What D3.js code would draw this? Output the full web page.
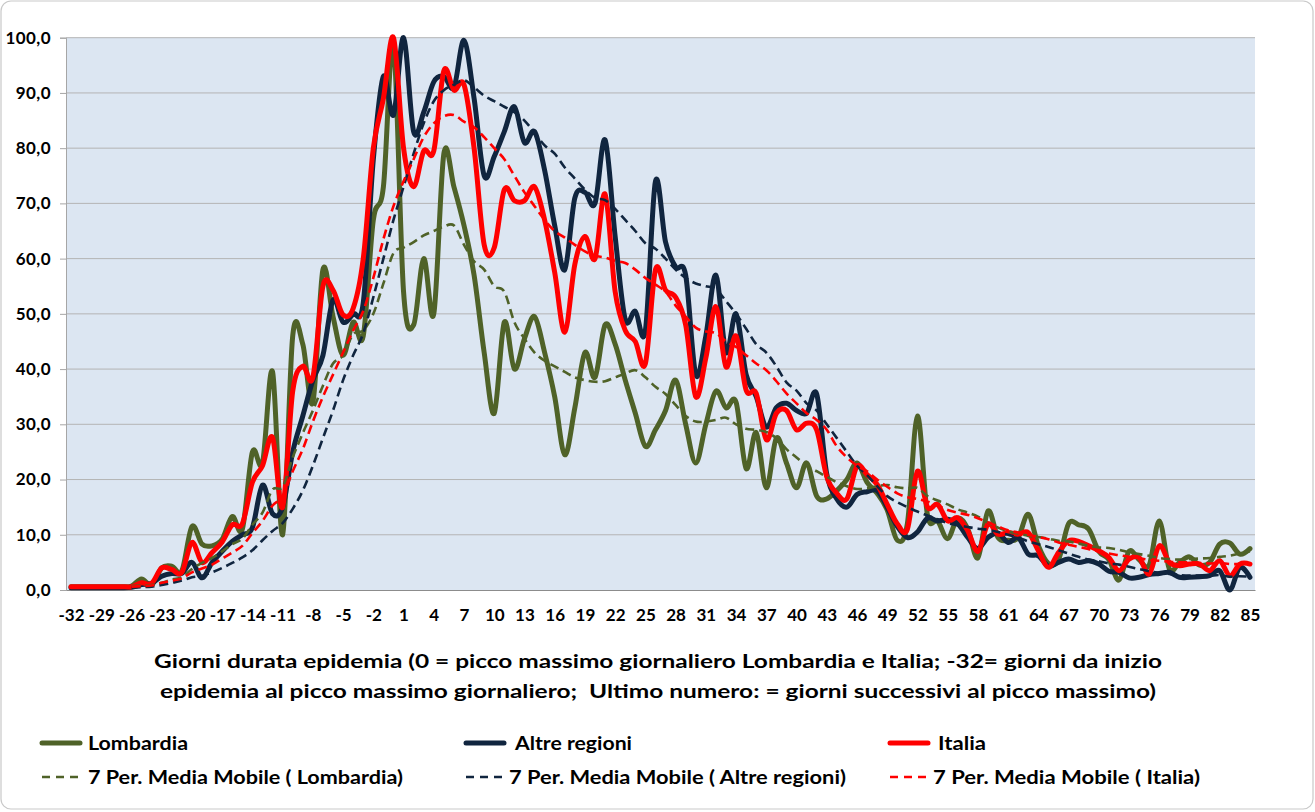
<!DOCTYPE html>
<html><head><meta charset="utf-8">
<script src="https://cdn.jsdelivr.net/npm/d3@7/dist/d3.min.js"></script>
<style>
body{margin:0;background:#fff}
svg{display:block}
text{font-family:Lato,"Liberation Sans",sans-serif;font-weight:bold;fill:#000;white-space:pre}
</style>
</head><body>
<svg id="chart" width="1315" height="812"></svg>
<script>
// ---------- DATA ----------
const days = [-32,-31,-30,-29,-28,-27,-26,-25,-24,-23,-22,-21,-20,-19,-18,-17,-16,-15,-14,-13,-12,-11,-10,-9,-8,-7,-6,-5,-4,-3,-2,-1,
0,1,2,3,4,5,6,7,8,9,10,11,12,13,14,15,16,17,18,19,20,21,22,23,24,25,26,27,28,29,30,31,32,33,34,35,36,37,38,39,40,41,42,43,44,45,
46,47,48,49,50,51,52,53,54,55,56,57,58,59,60,61,62,63,64,65,66,67,68,69,70,71,72,73,74,75,76,77,78,79,80,81,82,83,84,85];

const xTickLabels = ["-32","-29","-26","-23","-20","-17","-14","-11","-8","-5","-2","1","4","7","10","13","16","19","22","25","28","31","34","37","40","43","46","49","52","55","58","61","64","67","70","73","76","79","82","85"];
const yTicks = [0,10,20,30,40,50,60,70,80,90,100];

const lombardia = [0.6,0.6,0.6,0.6,0.6,0.6,
0.7,2.0,0.9,4.0,4.3,3.5,11.5,8.3,8.0,9.2,13.3,11.0,25.0,23.0,39.5,10.0,46.0,44.5,34.0,58.0,49.5,42.5,48.5,46.0,67.0,73.0,
99.0,54.0,48.0,60.0,50.0,79.0,73.0,66.0,57.0,43.0,32.0,48.5,40.0,45.5,49.5,43.0,35.0,24.5,33.0,43.0,38.5,48.0,44.5,38.0,32.0,26.0,
29.0,32.5,38.0,30.0,23.0,30.0,36.0,33.0,34.0,22.0,28.5,18.5,27.5,23.0,18.5,23.0,17.0,16.5,18.0,20.0,23.0,19.5,17.5,14.5,9.0,12.0,
31.5,13.5,12.5,9.3,13.0,11.0,5.8,14.3,9.5,9.0,9.5,13.7,8.0,4.8,5.5,12.0,11.8,11.0,7.0,5.5,1.8,7.0,5.5,4.5,12.5,3.8,5.0,6.0,4.5,5.0,8.3,8.5,6.5,7.5];

const altreRegioni = [0.4,0.4,0.4,0.4,0.4,0.4,
0.5,1.0,1.2,2.5,3.0,3.0,5.0,2.2,5.0,7.0,8.8,10.0,11.3,19.0,13.8,15.0,25.0,31.5,38.0,42.5,52.5,48.5,50.0,52.0,78.0,93.0,
86.0,100.0,83.0,86.5,92.0,93.0,91.0,99.5,89.0,75.0,78.5,83.0,87.5,81.0,83.0,76.0,66.0,58.0,71.0,72.0,70.0,81.5,64.0,49.0,50.5,47.0,
74.0,63.0,58.5,57.0,39.0,46.0,57.0,43.0,50.0,39.0,35.0,29.5,33.0,33.8,32.5,32.0,35.5,21.0,16.5,15.0,17.3,17.8,18.0,15.0,11.5,9.5,
10.5,13.0,12.5,12.8,12.0,9.5,7.5,9.5,10.3,8.6,9.5,6.5,6.2,4.3,5.0,5.6,5.0,5.3,4.7,3.4,3.2,2.2,2.3,2.8,3.0,3.2,2.3,2.3,2.4,2.6,3.5,0.0,4.1,2.3];

const italia = [0.6,0.6,0.6,0.6,0.6,0.6,
0.6,1.3,1.2,4.0,3.7,3.2,8.6,5.0,6.8,8.7,11.8,12.0,19.5,22.5,27.6,15.0,36.0,40.5,38.5,55.0,54.3,49.8,51.0,60.0,80.0,89.0,
100.0,80.0,73.0,79.5,79.5,94.0,90.5,91.5,80.0,62.5,62.0,72.5,70.5,70.5,73.0,67.0,57.5,46.7,59.0,64.0,60.0,71.7,54.0,47.0,45.0,41.0,
58.0,54.3,53.0,48.0,35.0,42.0,51.3,40.4,46.0,36.2,35.6,27.2,32.0,32.5,29.0,30.2,29.0,20.5,17.5,16.5,22.4,20.9,19.1,15.5,12.0,11.0,
21.5,15.0,15.5,12.5,13.1,10.7,7.0,11.9,10.1,10.4,10.1,10.4,7.1,4.1,6.8,8.9,8.8,8.0,7.1,5.9,3.5,5.6,5.9,2.9,8.0,5.0,4.4,4.7,4.7,3.5,5.3,2.6,4.7,4.7];

const lombardiaMA = [null,null,null,null,null,null,
0.7,0.8,0.9,1.3,1.9,2.3,3.8,4.9,5.8,7.0,8.3,9.3,11.8,14.0,18.2,18.7,24.0,28.4,32.5,37.0,41.0,42.5,46.3,47.0,50.0,55.5,
61.0,62.0,63.0,64.2,65.0,65.8,66.0,62.5,59.5,58.0,55.0,54.0,48.5,45.5,43.0,41.5,40.5,39.5,38.5,38.0,37.7,37.8,38.5,39.2,39.8,38.5,
36.8,35.5,33.5,31.5,30.5,30.5,30.8,31.2,30.0,29.2,29.0,28.6,27.5,25.5,24.0,22.5,21.5,20.5,19.5,18.8,18.3,18.4,18.8,19.0,18.6,18.4,
18.5,17.0,16.2,15.5,14.6,14.0,13.3,12.2,11.3,10.6,10.2,9.8,9.6,9.3,8.9,8.8,8.4,8.0,7.7,7.6,7.3,6.8,6.5,6.2,5.8,5.6,5.5,5.6,5.7,5.8,6.0,6.2,6.6,7.0];

const altreRegioniMA = [null,null,null,null,null,null,
0.4,0.5,0.6,0.9,1.3,1.7,2.3,2.6,3.2,4.0,4.9,5.9,7.2,9.0,10.7,12.1,14.7,18.0,22.5,27.5,32.5,38.0,42.5,46.5,53.0,60.0,
67.0,73.0,79.0,84.5,88.5,90.5,91.5,92.3,91.0,89.5,88.5,87.5,86.5,85.0,82.8,80.5,79.0,76.5,74.5,72.5,71.0,70.6,69.0,67.0,65.0,62.8,
61.8,60.0,58.0,56.5,55.5,55.0,54.5,52.3,50.0,47.3,44.5,43.0,40.5,37.6,36.1,33.8,32.5,30.0,27.5,25.0,22.5,20.8,18.8,17.0,15.9,15.0,
14.2,13.5,12.8,12.1,11.7,11.4,11.1,10.9,10.5,10.0,9.5,8.8,8.3,7.8,7.2,6.6,6.0,5.5,5.2,4.8,4.6,4.2,3.8,3.4,3.1,2.9,2.7,2.6,2.6,2.6,2.7,2.4,2.5,2.4];

const italiaMA = [null,null,null,null,null,null,
0.6,0.7,0.8,1.3,1.7,2.1,3.2,3.9,4.6,5.7,6.8,8.0,10.3,12.5,15.3,17.0,21.5,25.5,30.5,35.0,39.0,43.0,47.0,50.5,56.5,63.5,
69.5,74.0,78.0,82.0,84.5,85.8,86.0,84.8,83.8,82.0,80.0,78.0,75.0,72.0,69.5,67.0,65.0,63.8,62.5,61.3,60.5,60.2,59.6,59.2,58.0,56.5,
55.3,54.0,51.5,49.5,47.5,46.8,46.5,45.0,44.0,42.5,41.0,39.8,37.8,35.6,33.8,32.0,30.8,29.0,26.0,24.0,22.5,21.5,20.0,18.7,17.5,16.8,
16.5,16.0,15.3,14.5,14.0,13.6,13.0,12.2,11.5,10.8,10.4,10.0,9.6,9.2,8.6,8.2,7.8,7.4,7.0,6.6,6.3,6.0,5.8,5.4,5.3,5.1,5.0,5.0,4.9,4.8,4.9,4.7,4.7,4.8];

const seriesNames = ["Lombardia","Altre regioni","Italia"];
const maNames = ["7 Per. Media Mobile ( Lombardia)","7 Per. Media Mobile ( Altre regioni)","7 Per. Media Mobile ( Italia)"];
const colors = ["#4f6228","#10253f","#ff0000"];
const axisTitle = ["Giorni durata epidemia (0 = picco massimo giornaliero Lombardia e Italia; -32= giorni da inizio",
                   "epidemia al picco massimo giornaliero;  Ultimo numero: = giorni successivi al picco massimo)"];

// ---------- CHART ----------
const svg = d3.select("#chart");
const plot = {left:66, right:1255, top:37.7, bottom:590};

svg.append("rect").attr("x",1).attr("y",1).attr("width",1312).attr("height",808)
  .attr("rx",10).attr("fill","#fff").attr("stroke","#c9c9c9").attr("stroke-width",1.2);

const x = d3.scalePoint().domain(days).range([plot.left, plot.right]).padding(0.5);
const y = d3.scaleLinear().domain([0,100]).range([plot.bottom, plot.top]);

svg.append("rect").attr("x",plot.left).attr("y",plot.top)
  .attr("width",plot.right-plot.left).attr("height",plot.bottom-plot.top).attr("fill","#dce6f2");

// gridlines
svg.append("g").selectAll("line").data(yTicks.filter(v=>v>0)).join("line")
  .attr("x1",plot.left).attr("x2",plot.right)
  .attr("y1",d=>y(d)).attr("y2",d=>y(d))
  .attr("stroke","#b4b4b4").attr("stroke-width",1);

const locale = d3.formatLocale({decimal:",",thousands:".",grouping:[3],currency:["€",""]});
const fmt = locale.format(".1f");

const yAxis = svg.append("g").attr("transform",`translate(${plot.left},0)`)
  .call(d3.axisLeft(y).tickValues(yTicks).tickSize(6).tickPadding(9).tickFormat(fmt));
yAxis.select(".domain").attr("stroke","#a6a6a6");
yAxis.selectAll(".tick line").attr("stroke","#a6a6a6");
yAxis.selectAll("text").style("font-size","17px").style("letter-spacing","0.4px")
  .style("font-family","Lato, 'Liberation Sans', sans-serif").style("font-weight","bold");

const tickVals = xTickLabels.map(Number);
const xAxis = svg.append("g").attr("transform",`translate(0,${plot.bottom})`)
  .call(d3.axisBottom(x).tickValues(tickVals).tickSize(0).tickPadding(19)
        .tickFormat((d,i)=>xTickLabels[i]));
xAxis.select(".domain").attr("stroke","#8c8c8c").attr("stroke-width",1.2);
xAxis.selectAll("text").style("font-size","17px")
  .style("font-family","Lato, 'Liberation Sans', sans-serif").style("font-weight","bold");

// lines
const line = d3.line().defined(d=>d.v!=null).x(d=>x(d.day)).y(d=>y(d.v))
  .curve(d3.curveCatmullRom.alpha(0));
const toPts = arr => arr.map((v,i)=>({day:days[i], v:v}));

const solids = [lombardia, altreRegioni, italia];
const mas = [lombardiaMA, altreRegioniMA, italiaMA];

svg.append("g").selectAll("path").data(solids).join("path")
  .attr("d",d=>line(toPts(d))).attr("fill","none")
  .attr("stroke",(d,i)=>colors[i]).attr("stroke-width",5)
  .attr("stroke-linejoin","round").attr("stroke-linecap","round");

svg.append("g").selectAll("path").data(mas).join("path")
  .attr("d",d=>line(toPts(d))).attr("fill","none")
  .attr("stroke",(d,i)=>colors[i]).attr("stroke-width",2.6)
  .attr("stroke-dasharray","9,5").attr("stroke-linejoin","round");

// axis title
const titleW = [1008, 996];
svg.append("g").selectAll("text").data(axisTitle).join("text")
  .attr("x",658).attr("y",(d,i)=>668+i*30).attr("text-anchor","middle")
  .attr("textLength",(d,i)=>titleW[i]).attr("lengthAdjust","spacingAndGlyphs")
  .style("font-size","19px").text(d=>d);

// legend
const colX = [42, 466, 890];
const textX = [88, 515, 938];
const row1W = [100, 117, 48];
const row2X = [88, 509, 933];
const row2W = [315, 337, 267];
const lg = svg.append("g");
seriesNames.forEach((n,i)=>{
  lg.append("line").attr("x1",colX[i]).attr("x2",colX[i]+38).attr("y1",743).attr("y2",743)
    .attr("stroke",colors[i]).attr("stroke-width",5).attr("stroke-linecap","round");
  lg.append("text").attr("x",textX[i]).attr("y",749.5).style("font-size","18px")
    .attr("textLength",row1W[i]).attr("lengthAdjust","spacingAndGlyphs").text(n);
});
maNames.forEach((n,i)=>{
  lg.append("line").attr("x1",colX[i]).attr("x2",colX[i]+36).attr("y1",777).attr("y2",777)
    .attr("stroke",colors[i]).attr("stroke-width",2.6).attr("stroke-dasharray","8,6");
  lg.append("text").attr("x",row2X[i]).attr("y",783.5).style("font-size","18px")
    .attr("textLength",row2W[i]).attr("lengthAdjust","spacingAndGlyphs").text(n);
});
</script>
</body></html>
